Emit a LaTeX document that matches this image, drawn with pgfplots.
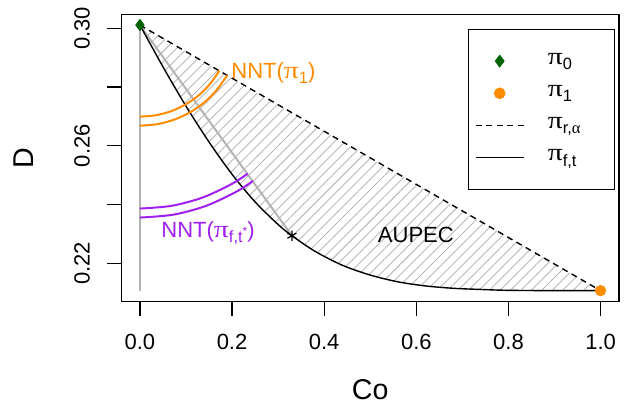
\documentclass[border=0pt]{standalone}
\usepackage{pgfplots}
\pgfplotsset{compat=1.18}
\usepackage{fontspec}
\setmainfont{Liberation Sans}
\newfontfamily\sym{Liberation Serif}
\usetikzlibrary{patterns.meta}
\definecolor{dkgreen}{HTML}{006400}
\definecolor{orangeR}{HTML}{FF8C00}
\definecolor{purpleR}{HTML}{A020F0}
\definecolor{lgray}{HTML}{B4B4B4}
\definecolor{hgray}{HTML}{B8B8B8}
\newcommand{\tpi}{\scalebox{1.35}[1.1]{\sym π}}
\newcommand{\sub}[1]{\raisebox{-2.7pt}{\fontsize{8.2}{9}\selectfont #1}}
\newcommand{\fs}{\fontsize{11}{13}\selectfont}
\pgfplotsset{
  marklegend/.style={legend image code/.code={\path (0pt,0pt) (24.2pt,0pt); \draw[##1] plot coordinates {(12.1pt,0pt)};}},
  linelegend/.style={legend image code/.code={\draw[##1] (0pt,0pt) -- (24.2pt,0pt);}},
}
\begin{document}
\begin{tikzpicture}
\begin{axis}[
  scale only axis, width=248.75pt, height=143.5pt,
  xmin=-0.04, xmax=1.04, ymin=0.2070, ymax=0.3047,
  axis line style={line width=0.7pt},
  tick align=outside, major tick length=7pt,
  tick style={black, line width=0.6pt},
  xtick pos=bottom, ytick pos=left,
  xtick={0,0.2,0.4,0.6,0.8,1},
  xticklabels={0.0,0.2,0.4,0.6,0.8,1.0},
  ytick={0.22,0.24,0.26,0.28,0.30},
  yticklabels={0.22,,0.26,,0.30},
  ticklabel style={font=\fs},
  xticklabel style={anchor=center, yshift=-13pt},
  yticklabel style={rotate=90, anchor=center, yshift=12.75pt},
  xlabel={Co}, ylabel={D},
  label style={font=\fontsize{14.3}{17}\selectfont},
  xlabel style={at={(axis description cs:0.5,-0.308)}, anchor=center},
  ylabel style={at={(axis description cs:-0.196,0.5)}, anchor=center},
  legend style={at={(axis description cs:0.6955,0.9512)}, anchor=north west,
    draw=black, line width=0.6pt, inner xsep=3.4pt, inner ysep=11pt,
    row sep=6.1pt, column sep=11.65pt, font=\fs,
    nodes={inner sep=0pt, text height=6.5pt, text depth=3.5pt, text width=29.95pt, align=left}},
  legend cell align=left,
]
% hatched area between the two frontiers
\addplot[draw=none, pattern={Lines[angle=45,distance=3.7pt,line width=0.45pt]}, pattern color=hgray, forget plot]
  coordinates {(0,0.3011)(0.05,0.2869)(0.10,0.2735)(0.15,0.2613)(0.20,0.2503)(0.25,0.2409)(0.30,0.2332)(0.33,0.2294)(0.38,0.2241)(0.44,0.2193)(0.50,0.2160)(0.56,0.2137)(0.62,0.2123)(0.68,0.2115)(0.74,0.2111)(0.80,0.2108)(0.90,0.2107)(1.00,0.2107)} -- cycle;
% gray guide lines
\addplot[lgray, line width=0.8pt, forget plot] coordinates {(0,0.3011)(0,0.2107)};
\addplot[lgray, line width=1pt, forget plot] coordinates {(0,0.3011)(0.33,0.2294)};
% frontiers
\addplot[black, line width=0.7pt, smooth, forget plot]
  coordinates {(0,0.3011)(0.05,0.2869)(0.10,0.2735)(0.15,0.2613)(0.20,0.2503)(0.25,0.2409)(0.30,0.2332)(0.33,0.2294)(0.38,0.2241)(0.44,0.2193)(0.50,0.2160)(0.56,0.2137)(0.62,0.2123)(0.68,0.2115)(0.74,0.2111)(0.80,0.2108)(0.90,0.2107)(1.00,0.2107)};
\addplot[black, line width=0.7pt, dash pattern=on 3pt off 2.3pt, forget plot] coordinates {(0,0.3011)(1,0.2107)};
% NNT arcs
\addplot[orangeR, line width=1pt, smooth, forget plot] coordinates {(0,0.26992)(0.03453,0.27039)(0.06802,0.27180)(0.09944,0.27410)(0.12783,0.27721)(0.15234,0.28106)(0.17240,0.28556)};
\addplot[orangeR, line width=1pt, smooth, forget plot] coordinates {(0,0.26685)(0.03793,0.26737)(0.07470,0.26892)(0.10921,0.27144)(0.14039,0.27487)(0.16731,0.27909)(0.18934,0.28403)};
\addplot[purpleR, line width=1pt, smooth, forget plot] coordinates {(0,0.23863)(0.06918,0.23958)(0.13626,0.24240)(0.19920,0.24700)(0.23371,0.25051)};
\addplot[purpleR, line width=1pt, smooth, forget plot] coordinates {(0,0.23557)(0.07257,0.23656)(0.14294,0.23952)(0.20897,0.24435)(0.24517,0.24803)};
% points
\addplot[only marks, mark=asterisk, mark size=2.6pt, black, line width=0.6pt, forget plot] coordinates {(0.33,0.2294)};
\addplot[only marks, mark=diamond*, mark size=2.8pt, dkgreen, forget plot] coordinates {(0,0.3011)};
\addplot[only marks, mark=*, mark size=2.6pt, orangeR, forget plot] coordinates {(1,0.2107)};
% labels
\node[anchor=west, text=orangeR, font=\fs, inner sep=0pt] at (axis cs:0.1978,0.2847) {NNT(\tpi\sub{1})};
\node[anchor=west, text=purpleR, font=\fs, inner sep=0pt] at (axis cs:0.0458,0.2302) {NNT(\tpi\sub{f,t\raisebox{3.5pt}{\fontsize{6}{6}\selectfont *}})};
\node[font=\fs] at (axis cs:0.599,0.2296) {AUPEC};
% legend
\addlegendimage{only marks, mark=diamond*, mark size=2.8pt, dkgreen, marklegend}
\addlegendentry{\tpi\sub{0}}
\addlegendimage{only marks, mark=*, mark size=2.6pt, orangeR, marklegend}
\addlegendentry{\tpi\sub{1}}
\addlegendimage{black, line width=0.6pt, dash pattern=on 3pt off 2.3pt, linelegend}
\addlegendentry{\tpi\sub{r,{\sym α}}}
\addlegendimage{black, line width=0.6pt, linelegend}
\addlegendentry{\tpi\sub{f,t}}
\end{axis}
\pgfresetboundingbox
\path[use as bounding box] ([xshift=-60.75pt,yshift=-50.75pt]current axis.south west) rectangle ([xshift=4pt,yshift=7.25pt]current axis.north east);
\end{tikzpicture}
\end{document}
